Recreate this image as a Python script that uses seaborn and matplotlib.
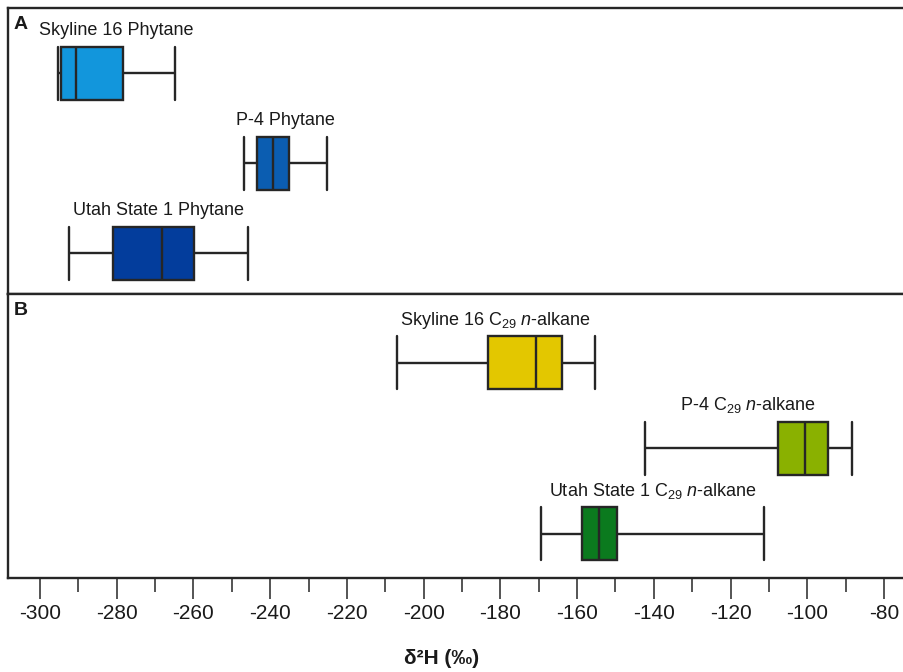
import numpy as np
import pandas as pd
import matplotlib
matplotlib.use("Agg")
import matplotlib.pyplot as plt
from matplotlib.ticker import MultipleLocator
import seaborn as sns

# each series: lower whisker, Q1, median, Q3, upper whisker (d2H, per mil)
phytane_names = ["Skyline 16 Phytane", "P-4 Phytane", "Utah State 1 Phytane"]
skyline16_phytane = [-295.3, -294.5, -290.6, -278.4, -264.8]
p4_phytane = [-246.9, -243.4, -239.2, -235.1, -225.1]
utah1_phytane = [-292.5, -280.9, -268.1, -259.9, -245.7]

alkane_names = [
    "Skyline 16 C$_{29}$ $\\mathit{n}$-alkane",
    "P-4 C$_{29}$ $\\mathit{n}$-alkane",
    "Utah State 1 C$_{29}$ $\\mathit{n}$-alkane",
]
skyline16_c29 = [-206.9, -183.3, -170.7, -164.0, -155.4]
p4_c29 = [-142.4, -107.7, -100.7, -94.5, -88.3]
utah1_c29 = [-169.4, -158.7, -154.4, -149.7, -111.2]

phytane_colors = ["#1296DC", "#0B5DB1", "#033D9C"]
alkane_colors = ["#E3C700", "#8AB100", "#0B7A1E"]

XLIM = (-308.34, -74.79)
LINE = "#262626"

sns.set_theme(style="white")
plt.rcParams["font.family"] = ["Liberation Sans", "DejaVu Sans"]
plt.rcParams["mathtext.fontset"] = "custom"
plt.rcParams["mathtext.rm"] = "Liberation Sans"
plt.rcParams["mathtext.it"] = "Liberation Sans:italic"
plt.rcParams["axes.unicode_minus"] = False


def draw_panel(ax, names, series, colors, box_w, ylim, letter):
    df = pd.DataFrame({
        "sample": np.repeat(names, [len(s) for s in series]),
        "d2H": np.concatenate(series),
    })
    sns.boxplot(data=df, x="d2H", y="sample", hue="sample", order=names,
                hue_order=names, palette=dict(zip(names, colors)),
                orient="h", whis=(0, 100), width=box_w, dodge=False,
                legend=False, linewidth=1.7, linecolor=LINE, saturation=1,
                capwidths=box_w, ax=ax)
    for i, (name, vals) in enumerate(zip(names, series)):
        mid = (min(vals) + max(vals)) / 2
        ax.annotate(name, xy=(mid, i - box_w / 2), xytext=(0, 8.5),
                    textcoords="offset points", ha="center", va="baseline",
                    fontsize=13, color="#1a1a1a")
    ax.annotate(letter, xy=(0, 1), xycoords="axes fraction", xytext=(4, -6),
                textcoords="offset points", ha="left", va="top",
                fontsize=14, fontweight="bold", color="#1a1a1a")
    ax.set_xlim(*XLIM)
    ax.set_ylim(*ylim)
    ax.set_ylabel("")
    ax.set_xlabel("")
    ax.set_yticks([])
    ax.spines["right"].set_visible(False)
    for s in ["left", "top", "bottom"]:
        ax.spines[s].set_color(LINE)
        ax.spines[s].set_linewidth(1.7)


fig = plt.figure(figsize=(9.04, 6.72), dpi=100)
ax_a = fig.add_axes([0.00885, 0.5625, 0.99115, 0.4256])
ax_b = fig.add_axes([0.00885, 0.13988, 0.99115, 0.42262])

draw_panel(ax_a, phytane_names, [skyline16_phytane, p4_phytane, utah1_phytane],
           phytane_colors, 0.589, (2.452, -0.7256), "A")
draw_panel(ax_b, alkane_names, [skyline16_c29, p4_c29, utah1_c29],
           alkane_colors, 0.62, (2.515, -0.807), "B")

ax_a.tick_params(bottom=False, labelbottom=False, left=False)
ax_b.xaxis.set_major_locator(MultipleLocator(20))
ax_b.xaxis.set_minor_locator(MultipleLocator(10))
ax_b.tick_params(axis="x", which="major", bottom=True, length=15, width=1.1,
                 color=LINE, labelsize=15, pad=4, labelcolor="#1a1a1a")
ax_b.tick_params(axis="x", which="minor", bottom=True, length=10, width=1.1,
                 color=LINE)
ax_b.tick_params(left=False)

ax_b.set_xlabel("δ²H (‰)", fontsize=15, fontweight="bold", color="#1a1a1a")
ax_b.xaxis.set_label_coords(0.4844, -0.282)
ax_b.xaxis.label.set_va("center")

fig.savefig("out.png", dpi=100)
